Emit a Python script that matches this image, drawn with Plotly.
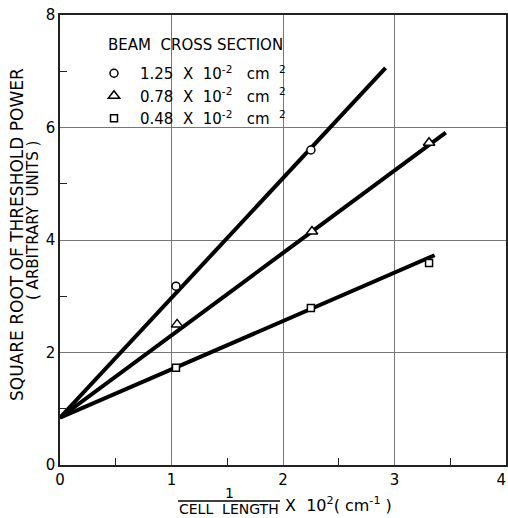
import plotly.graph_objects as go

# ---- data ----
series_names = ["1.25  X  10<sup>-2</sup>   cm  <sup>2</sup>",
                "0.78  X  10<sup>-2</sup>   cm  <sup>2</sup>",
                "0.48  X  10<sup>-2</sup>   cm  <sup>2</sup>"]
symbols = ["circle", "triangle-up", "square"]
marker_sizes = [8, 10, 7]

circle_x = [1.04, 2.25]
circle_y = [3.18, 5.60]
triangle_x = [1.05, 2.26, 3.31]
triangle_y = [2.50, 4.15, 5.73]
square_x = [1.04, 2.25, 3.31]
square_y = [1.73, 2.79, 3.59]

# fitted straight lines: common intercept, slopes, end x
fit_intercept = 0.84
fit_slopes = [2.13, 1.465, 0.86]
fit_x_end = [2.92, 3.46, 3.36]

x_ticks = [0, 1, 2, 3, 4]
x_tick_labels = ["0", "1", "2", "3", "4&nbsp;&nbsp;"]
y_ticks = [0, 2, 4, 6, 8]
y_tick_labels = ["0", "2", "4", "6", "8"]

W, H = 508, 518
PL, PR, PT, PB = 60, 506, 15, 465          # plot area in page pixels
L, T, R, B = PL, PT, W - PR, H - PB
pw, ph = PR - PL, PB - PT


def px(x):
    return (x - PL) / pw


def py(y):
    return (PB - y) / ph


FONT = "DejaVu Sans"
fig = go.Figure()

# fitted lines
for m, xe in zip(fit_slopes, fit_x_end):
    xs = [0, xe]
    fig.add_trace(go.Scatter(x=xs, y=[fit_intercept + m * v for v in xs],
                             mode="lines", line=dict(color="black", width=4),
                             showlegend=False, hoverinfo="skip"))

# measured points
pts = [(circle_x, circle_y), (triangle_x, triangle_y), (square_x, square_y)]
for (xs, ys), name, sym, sz in zip(pts, series_names, symbols, marker_sizes):
    fig.add_trace(go.Scatter(x=xs, y=ys, mode="markers", name=name,
                             marker=dict(symbol=sym, size=sz, color="white",
                                         line=dict(color="black", width=1.5))))

axis_common = dict(showline=True, mirror=True, linecolor="#222", linewidth=1.5,
                   showgrid=True, gridcolor="#777", gridwidth=1, zeroline=False,
                   ticks="", automargin=False, ticklabeloverflow="allow",
                   tickfont=dict(family=FONT, size=15, color="black"))

fig.update_xaxes(range=[0, 4], tickvals=x_ticks, ticktext=x_tick_labels,
                 minor=dict(tickvals=[0.5, 1.5, 2.5, 3.5], ticks="inside", ticklen=7,
                            tickcolor="#222", showgrid=False),
                 **axis_common)
fig.update_yaxes(range=[0, 8], tickvals=y_ticks, ticktext=y_tick_labels,
                 minor=dict(tickvals=[1, 3, 5, 7], ticks="inside", ticklen=7,
                            tickcolor="#222", showgrid=False),
                 **axis_common)


def note(x, y, text, size, angle=0, xanchor="center"):
    return dict(x=px(x), y=py(y), xref="paper", yref="paper", text=text,
                textangle=angle, xanchor=xanchor, yanchor="middle",
                showarrow=False, font=dict(family=FONT, size=size, color="black"))


ann = [
    note(17, 235, "SQUARE ROOT OF THRESHOLD POWER", 17, -90),
    note(33, 221, "( ARBITRARY  UNITS )", 15, -90),
    note(229, 493, "1", 14),
    note(229, 509, "CELL  LENGTH", 14),
    note(338, 504, "X  10<sup>2</sup>( cm<sup>-1</sup> )", 16),
    note(106, 45, "BEAM  CROSS SECTION", 15, xanchor="left"),
]

fig.update_layout(
    width=W, height=H,
    margin=dict(l=L, r=R, t=T, b=B, autoexpand=False),
    paper_bgcolor="white", plot_bgcolor="white",
    annotations=ann,
    shapes=[dict(type="line", xref="paper", yref="paper",
                 x0=px(178), x1=px(280), y0=py(501), y1=py(501),
                 line=dict(color="black", width=1.5))],
    legend=dict(x=px(88), y=py(57), xanchor="left", yanchor="top",
                bgcolor="rgba(0,0,0,0)", itemwidth=42,
                font=dict(family=FONT, size=15, color="black"), tracegroupgap=0),
    showlegend=True,
)

fig.write_html("out.html", config={"displayModeBar": False},
               post_script="document.body.style.margin='0';"
                           "document.body.style.overflow='hidden';")
